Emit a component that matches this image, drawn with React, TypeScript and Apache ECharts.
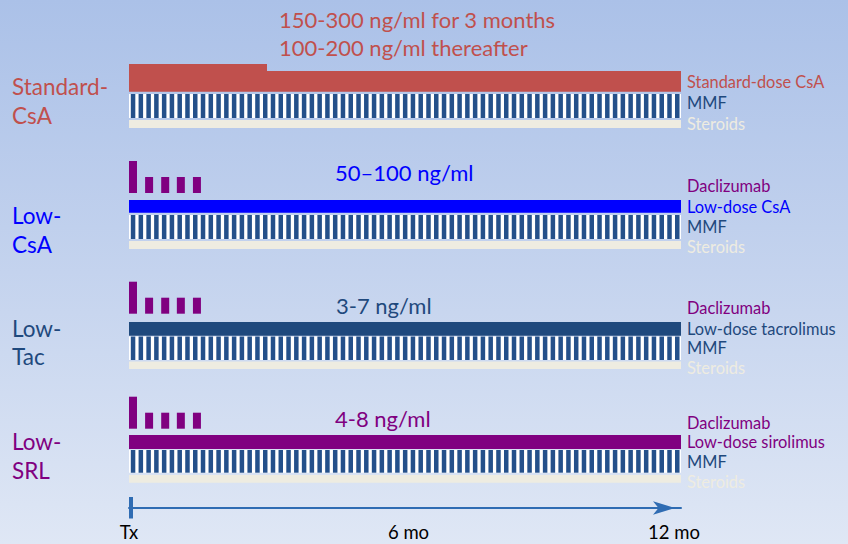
import React, { useEffect, useRef } from 'react';
import * as echarts from 'echarts';

// ---- data ----
const MONTH_MAX = 12;
const axisTickMonths = [0, 6, 12];
const axisTickLabels = ['Tx', '6 mo', '12 mo'];

const armNames = ['Standard-\nCsA', 'Low-\nCsA', 'Low-\nTac', 'Low-\nSRL'];
const armColors = ['#c0504d', '#0000ff', '#1f497d', '#800080'];
const baseDrugNames = ['Standard-dose CsA', 'Low-dose CsA', 'Low-dose tacrolimus', 'Low-dose sirolimus'];
const targetLevels = [
  '150-300 ng/ml for 3 months\n100-200 ng/ml thereafter',
  '50–100 ng/ml',
  '3-7 ng/ml',
  '4-8 ng/ml',
];

// base drug periods: [arm, start month, end month, phase (0 = initial higher target, 1 = maintenance)]
const baseDrugPeriods = [
  [0, 0, 3, 0],
  [0, 3, 12, 1],
  [1, 0, 12, 1],
  [2, 0, 12, 1],
  [3, 0, 12, 1],
];

// daclizumab induction: dose times (months) and relative dose (mg/kg)
const daclizumabArms = [1, 2, 3];
const daclizumabMonths = [0, 0.35, 0.7, 1.04, 1.39];
const daclizumabDoses = [2, 1, 1, 1, 1];

// MMF and steroids: [arm, start month, end month]
const mmfPeriods = [
  [0, 0, 12],
  [1, 0, 12],
  [2, 0, 12],
  [3, 0, 12],
];
const steroidPeriods = [
  [0, 0, 12],
  [1, 0, 12],
  [2, 0, 12],
  [3, 0, 12],
];

// ---- layout (pixel rows) ----
const ROWS = [
  { dacBase: 0, drugTopInitial: 64, drugTop: 71, drugBottom: 91.7, mmfTop: 94, mmfBottom: 118, sterTop: 120, sterBottom: 128,
    nameY: 100.9, targetX: 279, targetY: 33, legendY: [81, 102.5, 123] },
  { dacBase: 193, drugTopInitial: 200, drugTop: 200, drugBottom: 212.7, mmfTop: 215, mmfBottom: 239, sterTop: 241, sterBottom: 249,
    nameY: 230, targetX: 335, targetY: 172, legendY: [185, 206.5, 226.5, 246.5] },
  { dacBase: 313.7, drugTopInitial: 322, drugTop: 322, drugBottom: 335.7, mmfTop: 336.5, mmfBottom: 360, sterTop: 361.5, sterBottom: 369,
    nameY: 342.5, targetX: 336, targetY: 305, legendY: [307.7, 328, 347.8, 367.5] },
  { dacBase: 428.7, drugTopInitial: 435, drugTop: 435, drugBottom: 449, mmfTop: 450, mmfBottom: 472.7, sterTop: 475, sterBottom: 482.7,
    nameY: 456.2, targetX: 335, targetY: 418, legendY: [422.8, 441.8, 461.4, 481] },
];

const FONT = 'Lato, "Open Sans", sans-serif';
const MMF_DARK = '#24508a';
const STEROID = '#eeece1';
const DAC_COLOR = '#800080';
const AXIS_BLUE = '#2f6cb3';
const LEGEND_X = 687;
const DAC_WIDTH = 8;
const DAC_UNIT = 16;
const STRIPE_PERIOD = 7.77;
const AXIS_Y = 508;

function buildOption() {
  const xRect = (api: any, start: number, end: number) => {
    const x0 = api.coord([start, 0])[0];
    const x1 = api.coord([end, 0])[0];
    return [x0, x1];
  };
  const yPix = (api: any, v: number) => api.coord([0, v])[1];

  const graphics: any[] = [];
  armNames.forEach((name, i) => {
    const r = ROWS[i];
    graphics.push({
      type: 'text', x: 12, y: r.nameY - 28.5, silent: true,
      style: { text: name, fill: armColors[i], font: `22.5px ${FONT}`, lineHeight: 28.5 },
    });
    const lines = targetLevels[i].split('\n');
    graphics.push({
      type: 'text', x: r.targetX, y: r.targetY - (lines.length * 28) / 2, silent: true,
      style: { text: targetLevels[i], fill: armColors[i], font: `22px ${FONT}`, lineHeight: 28 },
    });
    const legend: [string, string][] = [];
    if (daclizumabArms.includes(i)) legend.push(['Daclizumab', DAC_COLOR]);
    legend.push([baseDrugNames[i], armColors[i]]);
    legend.push(['MMF', '#1f497d']);
    legend.push(['Steroids', STEROID]);
    legend.forEach(([t, c], k) => {
      graphics.push({
        type: 'text', x: LEGEND_X, y: r.legendY[k], silent: true,
        style: { text: t, fill: c, font: `16.4px ${FONT}`, lineHeight: 16, verticalAlign: 'middle' },
      });
    });
  });

  const dacData: number[][] = [];
  daclizumabArms.forEach((arm) => {
    daclizumabMonths.forEach((m, k) => dacData.push([arm, m, daclizumabDoses[k]]));
  });

  return {
    animation: false,
    backgroundColor: new echarts.graphic.LinearGradient(0, 0, 0, 1, [
      { offset: 0, color: '#abc1e8' },
      { offset: 0.5, color: '#c4d3ee' },
      { offset: 1, color: '#dfe7f5' },
    ]),
    grid: { left: 129, right: 848 - 681, top: 0, bottom: 544 - AXIS_Y },
    xAxis: {
      type: 'value', min: 0, max: MONTH_MAX, interval: 6, position: 'bottom',
      splitLine: { show: false },
      axisTick: { show: false },
      axisLine: {
        show: true, onZero: false, symbol: ['none', 'arrow'], symbolSize: [10, 22], symbolOffset: [0, -6],
        lineStyle: { color: AXIS_BLUE, width: 2 },
      },
      axisLabel: {
        margin: 14, color: '#000', fontFamily: FONT, fontSize: 18.5,
        formatter: (v: number) => {
          const i = axisTickMonths.indexOf(v);
          if (i < 0) return '';
          if (i === 1) return `{mid|${axisTickLabels[i]}}`;
          if (i === 2) return `{end|${axisTickLabels[i]}}`;
          return axisTickLabels[i];
        },
        rich: {
          mid: { fontFamily: FONT, fontSize: 18.5, color: '#000', padding: [0, 0, 0, 7] },
          end: { fontFamily: FONT, fontSize: 18.5, color: '#000', padding: [0, 14, 0, 0] },
        },
      },
    },
    yAxis: { type: 'value', min: 0, max: AXIS_Y, inverse: true, show: false, splitLine: { show: false } },
    graphic: graphics,
    series: [
      {
        type: 'custom', name: 'Steroids', data: steroidPeriods, silent: true,
        renderItem: (_p: any, api: any) => {
          const r = ROWS[api.value(0)];
          const [x0, x1] = xRect(api, api.value(1), api.value(2));
          const y0 = yPix(api, r.sterTop);
          const y1 = yPix(api, r.sterBottom);
          return { type: 'rect', shape: { x: x0, y: y0, width: x1 - x0, height: y1 - y0 }, style: { fill: STEROID } };
        },
      },
      {
        type: 'custom', name: 'MMF', data: mmfPeriods, silent: true,
        renderItem: (_p: any, api: any) => {
          const r = ROWS[api.value(0)];
          const [x0, x1] = xRect(api, api.value(1), api.value(2));
          const y0 = yPix(api, r.mmfTop);
          const y1 = yPix(api, r.mmfBottom);
          const w = x1 - x0;
          const n = Math.round(w / STRIPE_PERIOD);
          const period = w / n;
          const children: any[] = [
            { type: 'rect', shape: { x: x0, y: y0, width: w, height: y1 - y0 }, style: { fill: '#ffffff' } },
          ];
          for (let k = 0; k < n; k++) {
            children.push({
              type: 'rect',
              shape: { x: x0 + k * period + 1.8, y: y0, width: period * 0.58, height: y1 - y0 },
              style: { fill: MMF_DARK },
            });
          }
          return { type: 'group', children };
        },
      },
      {
        type: 'custom', name: 'Base drug', data: baseDrugPeriods, silent: true,
        renderItem: (_p: any, api: any) => {
          const arm = api.value(0);
          const r = ROWS[arm];
          const [x0, x1] = xRect(api, api.value(1), api.value(2));
          const top = api.value(3) === 0 ? r.drugTopInitial : r.drugTop;
          const y0 = yPix(api, top);
          const y1 = yPix(api, r.drugBottom);
          return { type: 'rect', shape: { x: x0, y: y0, width: x1 - x0, height: y1 - y0 }, style: { fill: armColors[arm] } };
        },
      },
      {
        type: 'custom', name: 'Daclizumab', data: dacData, silent: true,
        renderItem: (_p: any, api: any) => {
          const r = ROWS[api.value(0)];
          const x = api.coord([api.value(1), 0])[0];
          const base = yPix(api, r.dacBase);
          const h = api.value(2) * DAC_UNIT;
          return { type: 'rect', shape: { x, y: base - h, width: DAC_WIDTH, height: h }, style: { fill: DAC_COLOR } };
        },
      },
      {
        type: 'custom', name: 'Transplant', data: [[0]], silent: true, clip: false,
        renderItem: (_p: any, api: any) => {
          const [x, y] = api.coord([api.value(0), AXIS_Y]);
          return { type: 'rect', shape: { x, y: y - 11, width: 4, height: 21.5 }, style: { fill: AXIS_BLUE } };
        },
      },
    ],
  };
}

export default function App() {
  const ref = useRef<HTMLDivElement>(null);
  useEffect(() => {
    document.body.style.margin = '0';
    if (!ref.current) return;
    const chart = echarts.init(ref.current, undefined, { renderer: 'svg' });
    chart.setOption(buildOption() as any);
    return () => chart.dispose();
  }, []);
  return <div ref={ref} style={{ width: 848, height: 544 }} />;
}
